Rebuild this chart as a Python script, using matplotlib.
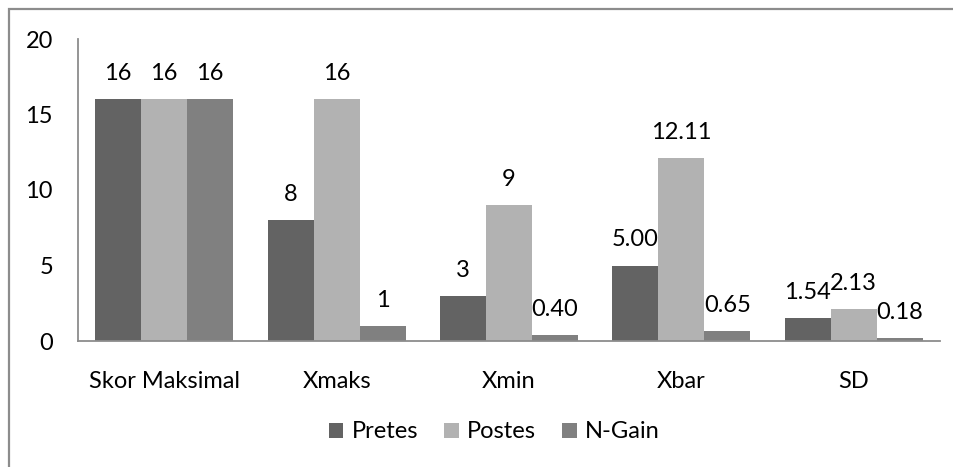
import numpy as np
import matplotlib
matplotlib.use('Agg')
import matplotlib.pyplot as plt
from matplotlib.patches import Rectangle

plt.rcParams['font.family'] = ['Lato', 'DejaVu Sans']

# data: the labels are the values as written in the table
categories = ['Skor Maksimal', 'Xmaks', 'Xmin', 'Xbar', 'SD']
pretes_txt = ['16', '8', '3', '5.00', '1.54']
postes_txt = ['16', '16', '9', '12.11', '2.13']
ngain_txt = ['16', '1', '0.40', '0.65', '0.18']
series_names = ['Pretes', 'Postes', 'N-Gain']
series_colors = ['#636363', '#b2b2b2', '#808080']

series_txt = [pretes_txt, postes_txt, ngain_txt]
series_val = [[float(s) for s in txt] for txt in series_txt]

W, H = 954, 467
fig = plt.figure(figsize=(W/100, H/100), dpi=100)
ax = fig.add_axes([78/W, 1-341/H, (940-78)/W, (341-39)/H])

x = np.arange(len(categories))
bw = 0.8/3
fs = 17
for i, (name, vals, txt, col) in enumerate(zip(series_names, series_val,
                                                series_txt, series_colors)):
    pos = x - bw + i*bw
    ax.bar(pos, vals, width=bw, color=col, label=name, zorder=2)
    for xp, v, t in zip(pos, vals, txt):
        ax.annotate(t, (xp, v), xytext=(0, 19), textcoords='offset pixels',
                    ha='center', va='baseline', fontsize=fs, color='black')

ax.set_xlim(-0.5, len(categories)-0.5)
ax.set_ylim(0, 20)
ax.set_yticks([0, 5, 10, 15, 20])
ax.set_xticks(x)
ax.set_xticklabels(categories)
ax.tick_params(axis='both', length=0, labelsize=fs)
ax.tick_params(axis='y', pad=18)
ax.tick_params(axis='x', pad=21.5)
for s in ['top', 'right']:
    ax.spines[s].set_visible(False)
for s in ['left', 'bottom']:
    ax.spines[s].set_color('#8c8c8c')
    ax.spines[s].set_linewidth(1.3)
    ax.spines[s].set_zorder(3)

fig.legend(loc='center', bbox_to_anchor=(0.518, 1-432/H), ncol=3,
           frameon=False, fontsize=fs, handlelength=0.62, handleheight=0.62,
           handletextpad=0.35, columnspacing=1.1)

# chart-area frame, open to the right and bottom
fig.patches.append(Rectangle((9/W, -0.1), 1.2, 1-9/H+0.1, transform=fig.transFigure,
                             fill=False, edgecolor='#8c8c8c', linewidth=1.6))

fig.savefig('out.png', dpi=100)
